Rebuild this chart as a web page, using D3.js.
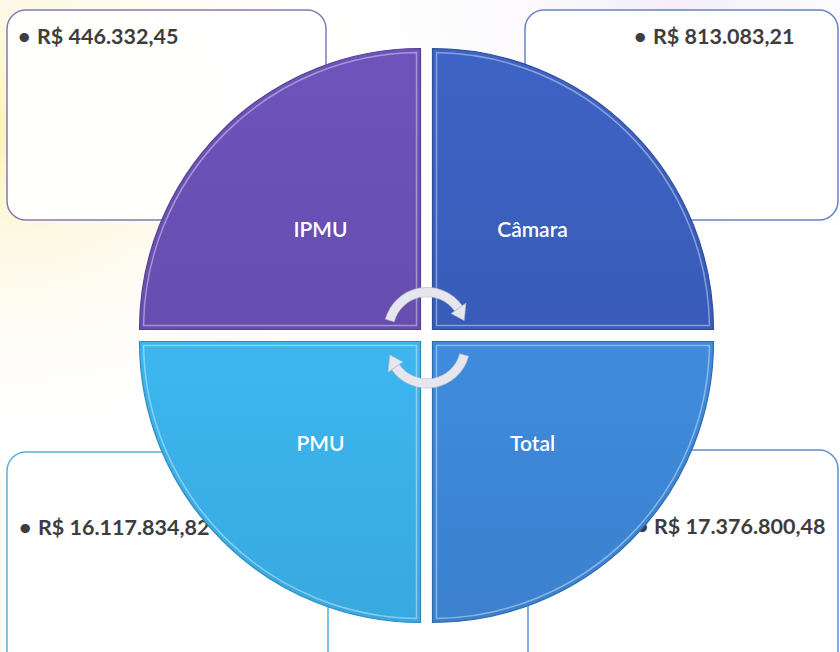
<!DOCTYPE html>
<html>
<head>
<meta charset="utf-8">
<script src="https://cdn.jsdelivr.net/npm/d3@7"></script>
<style>
  html, body { margin: 0; padding: 0; background: #ffffff; }
  svg { display: block; }
</style>
</head>
<body>
<svg id="chart" width="840" height="652"></svg>
<script>
// ---- data ----
const categories = ["IPMU", "Câmara", "PMU", "Total"];
const values = [446332.45, 813083.21, 16117834.82, 17376800.48];
const quadrantColors = ["#6950b4", "#3a5fbd", "#3aaee6", "#3d85d4"];
const boxStrokes = ["#8678b4", "#6683c9", "#5aaee0", "#5d8fd2"];

const W = 840, H = 652;
const svg = d3.select("#chart");
const defs = svg.append("defs");

const brl = d3.formatLocale({ decimal: ",", thousands: ".", grouping: [3], currency: ["R$ ", ""] });
const fmt = brl.format("$,.2f");

// ---- background ----
const bg1 = defs.append("radialGradient").attr("id", "bgY")
  .attr("cx", 0).attr("cy", 0.2).attr("r", 0.5);
bg1.append("stop").attr("offset", 0).attr("stop-color", "#fbf2c0");
bg1.append("stop").attr("offset", 1).attr("stop-color", "#ffffff").attr("stop-opacity", 0);
const bg2 = defs.append("radialGradient").attr("id", "bgL")
  .attr("cx", 0.8).attr("cy", 0).attr("r", 0.4);
bg2.append("stop").attr("offset", 0).attr("stop-color", "#f5eef8");
bg2.append("stop").attr("offset", 1).attr("stop-color", "#ffffff").attr("stop-opacity", 0);
svg.append("rect").attr("width", W).attr("height", H).attr("fill", "#fefefe");
svg.append("rect").attr("width", W).attr("height", H).attr("fill", "url(#bgL)");
svg.append("rect").attr("width", W).attr("height", H).attr("fill", "url(#bgY)");

// ---- layout ----
const cx = 426.5, cy = 335.5, gap = 6, R = 281;
// quadrant directions: IPMU top-left, Câmara top-right, PMU bottom-left, Total bottom-right
const dirs = [[-1, -1], [1, -1], [-1, 1], [1, 1]];
const angles = [[-Math.PI / 2, 0], [0, Math.PI / 2], [Math.PI, 1.5 * Math.PI], [Math.PI / 2, Math.PI]];

// boxes behind the circle
const boxes = [
  { x: 7, y: 10, w: 319, h: 210, bx: 18, tx: 37, ty: 44 },
  { x: 525, y: 10, w: 313, h: 210, bx: 634, tx: 653, ty: 44 },
  { x: 7, y: 452, w: 321, h: 230, bx: 19, tx: 38, ty: 535 },
  { x: 528, y: 450, w: 310, h: 230, bx: 636, tx: 654, ty: 534 }
];
const gBoxes = svg.append("g");
boxes.forEach((b, i) => {
  gBoxes.append("rect")
    .attr("x", b.x).attr("y", b.y).attr("width", b.w).attr("height", b.h)
    .attr("rx", 19).attr("ry", 19)
    .attr("fill", "#ffffff").attr("fill-opacity", 0.93)
    .attr("stroke", boxStrokes[i]).attr("stroke-width", 1.5);
});

// ---- value texts (inside the boxes, behind the circle) ----
const gT = svg.append("g")
  .attr("font-family", "Lato, 'Open Sans', sans-serif")
  .attr("font-weight", 700)
  .attr("font-size", 21.5)
  .attr("fill", "#3d3d3d");
values.forEach((v, i) => {
  const b = boxes[i];
  gT.append("text").attr("x", b.bx).attr("y", b.ty).text("•");
  gT.append("text").attr("x", b.tx).attr("y", b.ty).text(fmt(v));
});

// ---- quadrants ----
const arc = d3.arc().innerRadius(0).outerRadius(R);
const gQ = svg.append("g");

quadrantColors.forEach((c, i) => {
  const grad = defs.append("linearGradient").attr("id", "qg" + i)
    .attr("x1", 0).attr("y1", 0).attr("x2", 0).attr("y2", 1);
  grad.append("stop").attr("offset", 0).attr("stop-color", d3.color(c).brighter(0.12));
  grad.append("stop").attr("offset", 1).attr("stop-color", d3.color(c).darker(0.08));
});

function insetPath(inset) {
  const p = d3.path();
  const rr = R - inset;
  const e = Math.sqrt(rr * rr - inset * inset);
  p.moveTo(inset, inset);
  p.lineTo(e, inset);
  p.arc(0, 0, rr, Math.atan2(inset, e), Math.atan2(e, inset), false);
  p.closePath();
  return p.toString();
}

categories.forEach((name, i) => {
  const [dx, dy] = dirs[i];
  const ox = cx + dx * gap, oy = cy + dy * gap;
  const g = gQ.append("g").attr("transform", `translate(${ox},${oy})`);
  g.append("path")
    .attr("d", arc({ startAngle: angles[i][0], endAngle: angles[i][1] }))
    .attr("fill", `url(#qg${i})`)
    .attr("stroke", d3.color(quadrantColors[i]).darker(0.6))
    .attr("stroke-width", 1.2);
  g.append("path")
    .attr("d", insetPath(4))
    .attr("transform", `scale(${dx},${dy})`)
    .attr("fill", "none")
    .attr("stroke", "#ffffff").attr("stroke-opacity", 0.4)
    .attr("stroke-width", 1.5);
  g.append("text")
    .attr("x", dx * 100).attr("y", dy * 100 + (dy < 0 ? 7 : 9))
    .attr("text-anchor", "middle")
    .attr("font-family", "Lato, 'Open Sans', sans-serif")
    .attr("font-size", 21)
    .attr("font-weight", 600)
    .attr("fill", "#ffffff")
    .text(name);
});

// ---- cycle arrows ----
const gA = svg.append("g");
const toRad = d => d * Math.PI / 180;
function arrow(acx, acy, a0, a1, a2) {
  const rm = 38.5, hw = 4.6, hh = 9;
  const body = d3.arc().innerRadius(rm - hw).outerRadius(rm + hw)
    ({ startAngle: toRad(a0), endAngle: toRad(a1) });
  const pt = (a, r) => [acx + r * Math.sin(toRad(a)), acy - r * Math.cos(toRad(a))];
  const head = [pt(a1, rm - hh), pt(a1, rm + hh), pt(a2, rm)];
  const g = gA.append("g");
  g.append("path").attr("d", body).attr("transform", `translate(${acx},${acy})`)
    .attr("fill", "#e6e6ee").attr("stroke", "#b8b8c8").attr("stroke-width", 0.6);
  g.append("path").attr("d", d3.line()(head) + "Z")
    .attr("fill", "#e6e6ee").attr("stroke", "#b8b8c8").attr("stroke-width", 0.6);
}
arrow(427, 330.5, -75, 55, 75);
arrow(427, 345, 105, 235, 255);
</script>
</body>
</html>
